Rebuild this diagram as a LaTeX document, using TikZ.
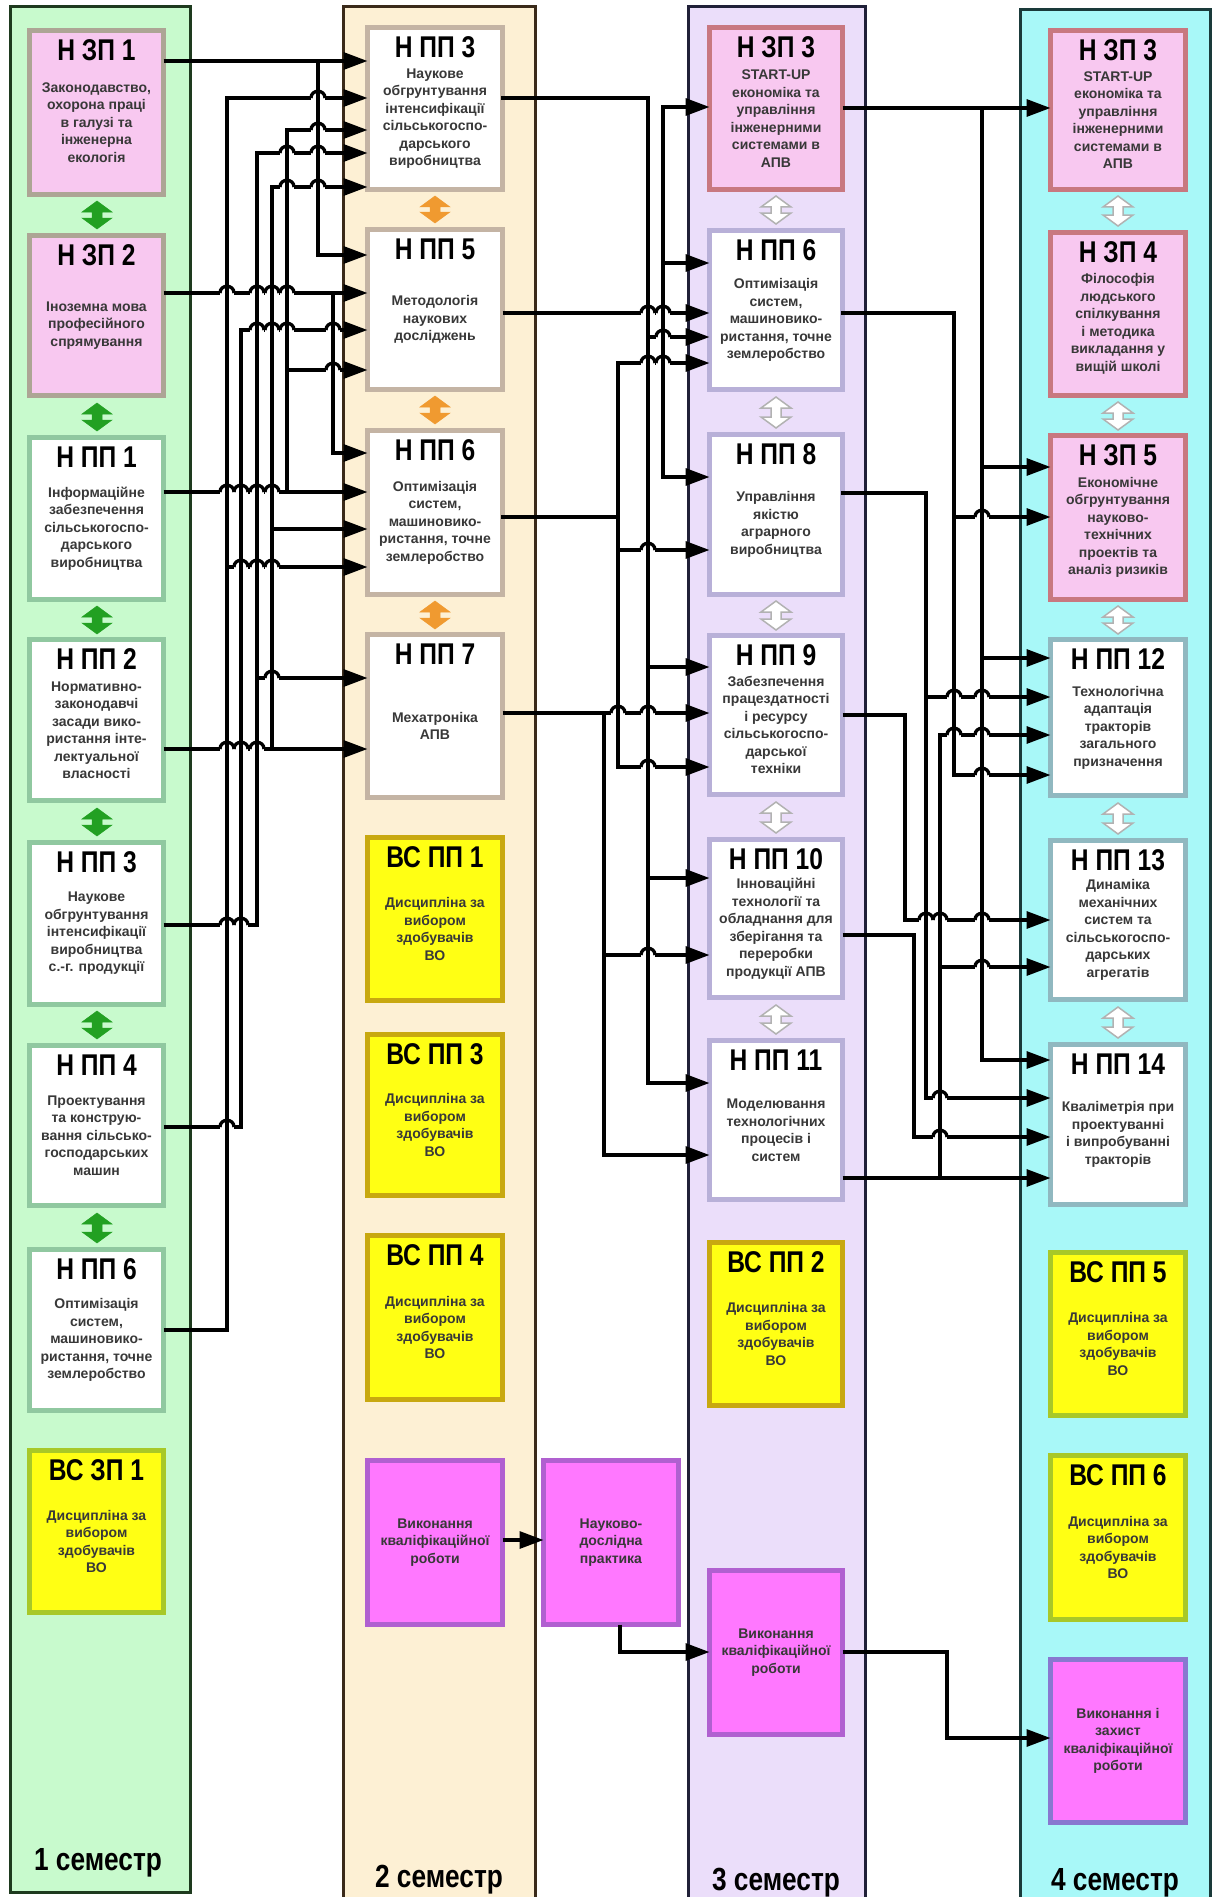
\documentclass[tikz,border=0pt]{standalone}
\usepackage{fontspec}
\setmainfont{Liberation Sans}
\newfontfamily\headfont[FakeStretch=0.82]{Liberation Sans}
\usetikzlibrary{arrows.meta}
\definecolor{colA}{HTML}{C8FACD}
\definecolor{colB}{HTML}{FDF0D4}
\definecolor{colC}{HTML}{EBDEFA}
\definecolor{colD}{HTML}{A8F8F8}
\definecolor{edgeA}{HTML}{1E3A1E}
\definecolor{edgeB}{HTML}{3A2A1A}
\definecolor{edgeC}{HTML}{202038}
\definecolor{edgeD}{HTML}{1A3A3A}
\definecolor{pinkF}{HTML}{F8C8F0}
\definecolor{grayB}{HTML}{ADA595}
\definecolor{redB}{HTML}{C87880}
\definecolor{greenB}{HTML}{90C8A0}
\definecolor{tanB}{HTML}{C4B4A4}
\definecolor{lavB}{HTML}{B8B0D8}
\definecolor{tealB}{HTML}{90B8C0}
\definecolor{yelF}{HTML}{FFFF14}
\definecolor{yelA}{HTML}{A8C828}
\definecolor{yelB}{HTML}{C8A810}
\definecolor{magF}{HTML}{FF78FF}
\definecolor{magB}{HTML}{B060D0}
\definecolor{magD}{HTML}{8878D0}
\definecolor{arGreen}{HTML}{22A022}
\definecolor{arOrange}{HTML}{F09A30}
\definecolor{bodyC}{HTML}{383838}
\newcommand\mybox[8]{%
  \node[#6, minimum width={#4-#2-5}, minimum height={#5-#3-5}] (#1) at ({(#2+#4)/2},{(#3+#5)/2}) {};
  \node[hdtext] (#1h) at ({(#2+#4)/2},{#3+22}) {#7};
  \node[bdtext] (#1b) at ({(#2+#4)/2},{(#3+#5)/2+10}) {#8};
}
\newcommand\magbox[7]{%
  \node[#6, minimum width={#4-#2-5}, minimum height={#5-#3-5}] (#1) at ({(#2+#4)/2},{(#3+#5)/2}) {};
  \node[bdtext] (#1b) at ({(#2+#4)/2},{(#3+#5)/2}) {#7};
}
\newcommand\dbl[4]{%
  \filldraw[#1] (#2,#3) -- ++(15,11) -- ++(-10,0) -- ({#2+5},{#4-11}) -- ++(10,0) -- (#2,#4)
    -- ++(-15,-11) -- ++(10,0) -- ({#2-5},{#3+11}) -- ++(-10,0) -- cycle;}
% vertical bus segments x/ytop/ybottom
\newcommand\vlist{318/61/255, 333/293/453, 287/130/492, 272/187/749, 257/153/925, 241/330/1127, 227/98/1330,
  648/98/1083, 663/107/477, 618/363/767, 604/713/1155,
  982/108/1060, 954/313/775, 926/493/1098, 905/715/920, 914/935/1137, 940/735/1178, 947/1652/1738, 620/1627/1652}
% horizontal segments y/xleft/xright
\newcommand\hlist{61/164/363, 255/318/363, 293/164/363, 453/333/363, 492/164/363, 130/287/363, 370/287/363,
  749/164/363, 187/272/363, 529/272/363, 925/164/257, 153/257/363, 678/257/363, 1127/164/241, 330/241/363,
  1330/164/227, 98/227/363, 567/227/363,
  98/503/648, 337/648/709, 667/648/709, 878/648/709, 1083/648/709, 313/503/709, 107/663/709, 263/663/709,
  477/663/709, 517/503/618, 363/618/709, 550/618/709, 767/618/709, 713/503/709, 955/604/709, 1155/604/709,
  108/843/1050, 467/982/1050, 658/982/1050, 1060/982/1050, 313/843/954, 517/954/1050, 775/954/1050,
  493/843/926, 697/926/1050, 1098/926/1050, 715/843/905, 920/905/1050, 935/843/914, 1137/914/1050,
  1178/843/1050, 735/940/1050, 967/940/1050}
\begin{document}
\begin{tikzpicture}[x=1pt,y=-1pt,
  bx/.style={draw, line width=5pt, inner sep=0pt, outer sep=0pt},
  zpA/.style={bx, fill=pinkF, draw=grayB},
  zpB/.style={bx, fill=pinkF, draw=redB},
  ppA/.style={bx, fill=white, draw=greenB},
  ppB/.style={bx, fill=white, draw=tanB},
  ppC/.style={bx, fill=white, draw=lavB},
  ppD/.style={bx, fill=white, draw=tealB},
  vsA/.style={bx, fill=yelF, draw=yelA},
  vsB/.style={bx, fill=yelF, draw=yelB},
  mag/.style={bx, fill=magF, draw=magB},
  magd/.style={bx, fill=magF, draw=magD},
  hdtext/.style={font=\headfont\bfseries\fontsize{30}{32}\selectfont, inner sep=0pt},
  bdtext/.style={font=\bfseries\fontsize{14}{17.5}\selectfont, align=center, inner sep=0pt, text=bodyC},
  semlabel/.style={font=\headfont\bfseries\fontsize{32}{34}\selectfont, inner sep=0pt},
  colbg/.style={line width=3pt},
  conn/.style={line width=3.3pt, line cap=rect},
  arr/.style={line width=3.3pt, -{Triangle[length=24pt,width=17pt]}},
  hopline/.style={line width=3.3pt},
  dgreen/.style={fill=arGreen, draw=arGreen, line width=0.5pt},
  dorange/.style={fill=arOrange, draw=arOrange, line width=0.5pt},
  dhollow/.style={fill=white, draw=black!30, line width=1.5pt}
]
\useasboundingbox (0,0) rectangle (1211,1897);
\fill[white] (0,0) rectangle (1211,1897);
% columns
\draw[colbg, fill=colA, draw=edgeA] (10,7) rectangle (190,1892);
\draw[colbg, fill=colB, draw=edgeB] (343,7) rectangle (535,1910);
\draw[colbg, fill=colC, draw=edgeC] (688,7) rectangle (865,1910);
\draw[colbg, fill=colD, draw=edgeD] (1020,10) rectangle (1210,1910);
% semester labels
\node[semlabel] (s1) at (98,1863) {1 семестр};
\node[semlabel] (s2) at (439,1880) {2 семестр};
\node[semlabel] (s3) at (776,1883) {3 семестр};
\node[semlabel] (s4) at (1115,1883) {4 семестр};
% column 1
\mybox{c1zp1}{27}{28}{166}{197}{zpA}{Н ЗП 1}{Законодавство,\\охорона праці\\в галузі та\\інженерна\\екологія}
\mybox{c1zp2}{27}{233}{166}{398}{zpA}{Н ЗП 2}{Іноземна мова\\професійного\\спрямування}
\mybox{c1pp1}{27}{435}{166}{602}{ppA}{Н ПП 1}{Інформаційне\\забезпечення\\сільськогоспо-\\дарського\\виробництва}
\mybox{c1pp2}{27}{637}{166}{803}{ppA}{Н ПП 2}{Нормативно-\\законодавчі\\засади вико-\\ристання інте-\\лектуальної\\власності}
\mybox{c1pp3}{27}{840}{166}{1007}{ppA}{Н ПП 3}{Наукове\\обгрунтування\\інтенсифікації\\виробництва\\с.-г. продукції}
\mybox{c1pp4}{27}{1043}{166}{1208}{ppA}{Н ПП 4}{Проектування\\та конструю-\\вання сільсько-\\господарських\\машин}
\mybox{c1pp6}{27}{1247}{166}{1413}{ppA}{Н ПП 6}{Оптимізація\\систем,\\машиновико-\\ристання, точне\\землеробство}
\mybox{c1vs1}{27}{1448}{166}{1615}{vsA}{ВС ЗП 1}{Дисципліна за\\вибором\\здобувачів\\ВО}
% column 2
\mybox{c2pp3}{365}{25}{505}{192}{ppB}{Н ПП 3}{Наукове\\обгрунтування\\інтенсифікації\\сільськогоспо-\\дарського\\виробництва}
\mybox{c2pp5}{365}{227}{505}{392}{ppB}{Н ПП 5}{Методологія\\наукових\\досліджень}
\mybox{c2pp6}{365}{428}{505}{597}{ppB}{Н ПП 6}{Оптимізація\\систем,\\машиновико-\\ристання, точне\\землеробство}
\mybox{c2pp7}{365}{632}{505}{800}{ppB}{Н ПП 7}{Мехатроніка\\АПВ}
\mybox{c2vs1}{365}{835}{505}{1003}{vsB}{ВС ПП 1}{Дисципліна за\\вибором\\здобувачів\\ВО}
\mybox{c2vs3}{365}{1032}{505}{1198}{vsB}{ВС ПП 3}{Дисципліна за\\вибором\\здобувачів\\ВО}
\mybox{c2vs4}{365}{1233}{505}{1402}{vsB}{ВС ПП 4}{Дисципліна за\\вибором\\здобувачів\\ВО}
\magbox{c2vyk}{365}{1458}{505}{1627}{mag}{Виконання\\кваліфікаційної\\роботи}
\magbox{nauk}{541}{1458}{681}{1627}{mag}{Науково-\\дослідна\\практика}
% column 3
\mybox{c3zp3}{707}{25}{845}{192}{zpB}{Н ЗП 3}{START-UP\\економіка та\\управління\\інженерними\\системами в\\АПВ}
\mybox{c3pp6}{707}{228}{845}{392}{ppC}{Н ПП 6}{Оптимізація\\систем,\\машиновико-\\ристання, точне\\землеробство}
\mybox{c3pp8}{707}{432}{845}{597}{ppC}{Н ПП 8}{Управління\\якістю\\аграрного\\виробництва}
\mybox{c3pp9}{707}{633}{845}{797}{ppC}{Н ПП 9}{Забезпечення\\працездатності\\і ресурсу\\сільськогоспо-\\дарської\\техніки}
\mybox{c3pp10}{707}{837}{845}{1000}{ppC}{Н ПП 10}{Інноваційні\\технології та\\обладнання для\\зберігання та\\переробки\\продукції АПВ}
\mybox{c3pp11}{707}{1038}{845}{1202}{ppC}{Н ПП 11}{Моделювання\\технологічних\\процесів і\\систем}
\mybox{c3vs2}{707}{1240}{845}{1408}{vsB}{ВС ПП 2}{Дисципліна за\\вибором\\здобувачів\\ВО}
\magbox{c3vyk}{707}{1568}{845}{1737}{mag}{Виконання\\кваліфікаційної\\роботи}
% column 4
\mybox{c4zp3}{1048}{28}{1188}{192}{zpB}{Н ЗП 3}{START-UP\\економіка та\\управління\\інженерними\\системами в\\АПВ}
\mybox{c4zp4}{1048}{230}{1188}{398}{zpB}{Н ЗП 4}{Філософія\\людського\\спілкування\\і методика\\викладання у\\вищій школі}
\mybox{c4zp5}{1048}{433}{1188}{602}{zpB}{Н ЗП 5}{Економічне\\обгрунтування\\науково-\\технічних\\проектів та\\аналіз ризиків}
\mybox{c4pp12}{1048}{637}{1188}{798}{ppD}{Н ПП 12}{Технологічна\\адаптація\\тракторів\\загального\\призначення}
\mybox{c4pp13}{1048}{838}{1188}{1002}{ppD}{Н ПП 13}{Динаміка\\механічних\\систем та\\сільськогоспо-\\дарських\\агрегатів}
\mybox{c4pp14}{1048}{1042}{1188}{1207}{ppD}{Н ПП 14}{Кваліметрія при\\проектуванні\\і випробуванні\\тракторів}
\mybox{c4vs5}{1048}{1250}{1188}{1418}{vsA}{ВС ПП 5}{Дисципліна за\\вибором\\здобувачів\\ВО}
\mybox{c4vs6}{1048}{1453}{1188}{1622}{vsA}{ВС ПП 6}{Дисципліна за\\вибором\\здобувачів\\ВО}
\magbox{c4vyk}{1048}{1657}{1188}{1825}{magd}{Виконання і\\захист\\кваліфікаційної\\роботи}
% double arrows
\dbl{dgreen}{97}{201}{229}
\dbl{dgreen}{97}{403}{431}
\dbl{dgreen}{97}{606}{634}
\dbl{dgreen}{97}{808}{836}
\dbl{dgreen}{97}{1011}{1039}
\dbl{dgreen}{97}{1213}{1243}
\dbl{dorange}{435}{196}{223}
\dbl{dorange}{435}{396}{424}
\dbl{dorange}{435}{601}{629}
\dbl{dhollow}{776}{196}{224}
\dbl{dhollow}{776}{397}{428}
\dbl{dhollow}{776}{601}{630}
\dbl{dhollow}{776}{802}{833}
\dbl{dhollow}{776}{1005}{1034}
\dbl{dhollow}{1118}{196}{226}
\dbl{dhollow}{1118}{402}{430}
\dbl{dhollow}{1118}{606}{634}
\dbl{dhollow}{1118}{803}{834}
\dbl{dhollow}{1118}{1007}{1038}
% bus coordinates
\coordinate (x1a) at (318,0);
\coordinate (x1b) at (333,0);
\coordinate (x1c) at (287,0);
\coordinate (x1d) at (272,0);
\coordinate (x1e) at (257,0);
\coordinate (x1f) at (241,0);
\coordinate (x1g) at (227,0);
\coordinate (x2a) at (648,0);
\coordinate (x2b) at (663,0);
\coordinate (x2c) at (618,0);
\coordinate (x2d) at (604,0);
\coordinate (x3a) at (982,0);
\coordinate (x3b) at (954,0);
\coordinate (x3c) at (926,0);
\coordinate (x3d) at (905,0);
\coordinate (x3e) at (914,0);
\coordinate (x3f) at (940,0);
\coordinate (x4) at (947,0);
\coordinate (x5) at (620,0);
% semester 1 -> 2
\draw[arr] (c1zp1.east |- 0,61) -- (c2pp3.west |- 0,61);
\draw[arr] (x1a |- 0,61) |- (c2pp5.west |- 0,255);
\draw[arr] (c1zp2.east |- 0,293) -- (c2pp5.west |- 0,293);
\draw[arr] (x1b |- 0,293) |- (c2pp6.west |- 0,453);
\draw[arr] (c1pp1.east |- 0,492) -- (c2pp6.west |- 0,492);
\draw[arr] (x1c |- 0,492) |- (c2pp3.west |- 0,130);
\draw[arr] (x1c |- 0,370) -- (c2pp5.west |- 0,370);
\draw[arr] (c1pp2.east |- 0,749) -- (c2pp7.west |- 0,749);
\draw[arr] (x1d |- 0,749) |- (c2pp3.west |- 0,187);
\draw[arr] (x1d |- 0,529) -- (c2pp6.west |- 0,529);
\draw[arr] (c1pp3.east |- 0,925) -| (x1e |- 0,153) -- (c2pp3.west |- 0,153);
\draw[arr] (x1e |- 0,678) -- (c2pp7.west |- 0,678);
\draw[arr] (c1pp4.east |- 0,1127) -| (x1f |- 0,330) -- (c2pp5.west |- 0,330);
\draw[arr] (c1pp6.east |- 0,1330) -| (x1g |- 0,98) -- (c2pp3.west |- 0,98);
\draw[arr] (x1g |- 0,567) -- (c2pp6.west |- 0,567);
% semester 2 -> 3
\draw[conn] (c2pp3.east |- 0,98) -| (x2a |- 0,1083);
\draw[arr] (x2a |- 0,337) -- (c3pp6.west |- 0,337);
\draw[arr] (x2a |- 0,667) -- (c3pp9.west |- 0,667);
\draw[arr] (x2a |- 0,878) -- (c3pp10.west |- 0,878);
\draw[arr] (x2a |- 0,1083) -- (c3pp11.west |- 0,1083);
\draw[arr] (c2pp5.east |- 0,313) -- (c3pp6.west |- 0,313);
\draw[conn] (x2b |- 0,107) -- (x2b |- 0,477);
\draw[arr] (x2b |- 0,107) -- (c3zp3.west |- 0,107);
\draw[arr] (x2b |- 0,263) -- (c3pp6.west |- 0,263);
\draw[arr] (x2b |- 0,477) -- (c3pp8.west |- 0,477);
\draw[conn] (c2pp6.east |- 0,517) -| (x2c |- 0,363);
\draw[conn] (x2c |- 0,517) -- (x2c |- 0,767);
\draw[arr] (x2c |- 0,363) -- (c3pp6.west |- 0,363);
\draw[arr] (x2c |- 0,550) -- (c3pp8.west |- 0,550);
\draw[arr] (x2c |- 0,767) -- (c3pp9.west |- 0,767);
\draw[arr] (c2pp7.east |- 0,713) -- (c3pp9.west |- 0,713);
\draw[conn] (x2d |- 0,713) -- (x2d |- 0,1155);
\draw[arr] (x2d |- 0,955) -- (c3pp10.west |- 0,955);
\draw[arr] (x2d |- 0,1155) -- (c3pp11.west |- 0,1155);
% semester 3 -> 4
\draw[arr] (c3zp3.east |- 0,108) -- (c4zp3.west |- 0,108);
\draw[conn] (x3a |- 0,108) -- (x3a |- 0,1060);
\draw[arr] (x3a |- 0,467) -- (c4zp5.west |- 0,467);
\draw[arr] (x3a |- 0,658) -- (c4pp12.west |- 0,658);
\draw[arr] (x3a |- 0,1060) -- (c4pp14.west |- 0,1060);
\draw[conn] (c3pp6.east |- 0,313) -| (x3b |- 0,775);
\draw[arr] (x3b |- 0,517) -- (c4zp5.west |- 0,517);
\draw[arr] (x3b |- 0,775) -- (c4pp12.west |- 0,775);
\draw[conn] (c3pp8.east |- 0,493) -| (x3c |- 0,1098);
\draw[arr] (x3c |- 0,697) -- (c4pp12.west |- 0,697);
\draw[arr] (x3c |- 0,1098) -- (c4pp14.west |- 0,1098);
\draw[arr] (c3pp9.east |- 0,715) -| (x3d |- 0,920) -- (c4pp13.west |- 0,920);
\draw[arr] (c3pp10.east |- 0,935) -| (x3e |- 0,1137) -- (c4pp14.west |- 0,1137);
\draw[arr] (c3pp11.east |- 0,1178) -- (c4pp14.west |- 0,1178);
\draw[conn] (x3f |- 0,1178) -- (x3f |- 0,735);
\draw[arr] (x3f |- 0,735) -- (c4pp12.west |- 0,735);
\draw[arr] (x3f |- 0,967) -- (c4pp13.west |- 0,967);
% qualification work chain
\draw[arr] (c2vyk.east |- 0,1540) -- (nauk.west |- 0,1540);
\draw[arr] (x5 |- nauk.south) |- (c3vyk.west |- 0,1652);
\draw[arr] (c3vyk.east |- 0,1652) -| (x4 |- 0,1738) -- (c4vyk.west |- 0,1738);
% line hops where horizontals cross vertical buses
\foreach \hy/\hxa/\hxb in \hlist {
  \foreach \vx/\vya/\vyb in \vlist {
    \pgfmathtruncatemacro\hopok{(\vx>(\hxa+6))*(\vx<(\hxb-6))*(\hy>(\vya+6))*(\hy<(\vyb-6))}
    \ifnum\hopok=1
      \fill[white] ({\vx-7},{\hy-2.6}) rectangle ({\vx+7},{\hy+2.6});
      \draw[hopline] (\vx,{\hy-4}) -- (\vx,{\hy+4});
      \draw[hopline] ({\vx-7},\hy) .. controls ({\vx-7},{\hy-9}) and ({\vx+7},{\hy-9}) .. ({\vx+7},\hy);
    \fi
  }
}
\end{tikzpicture}
\end{document}
